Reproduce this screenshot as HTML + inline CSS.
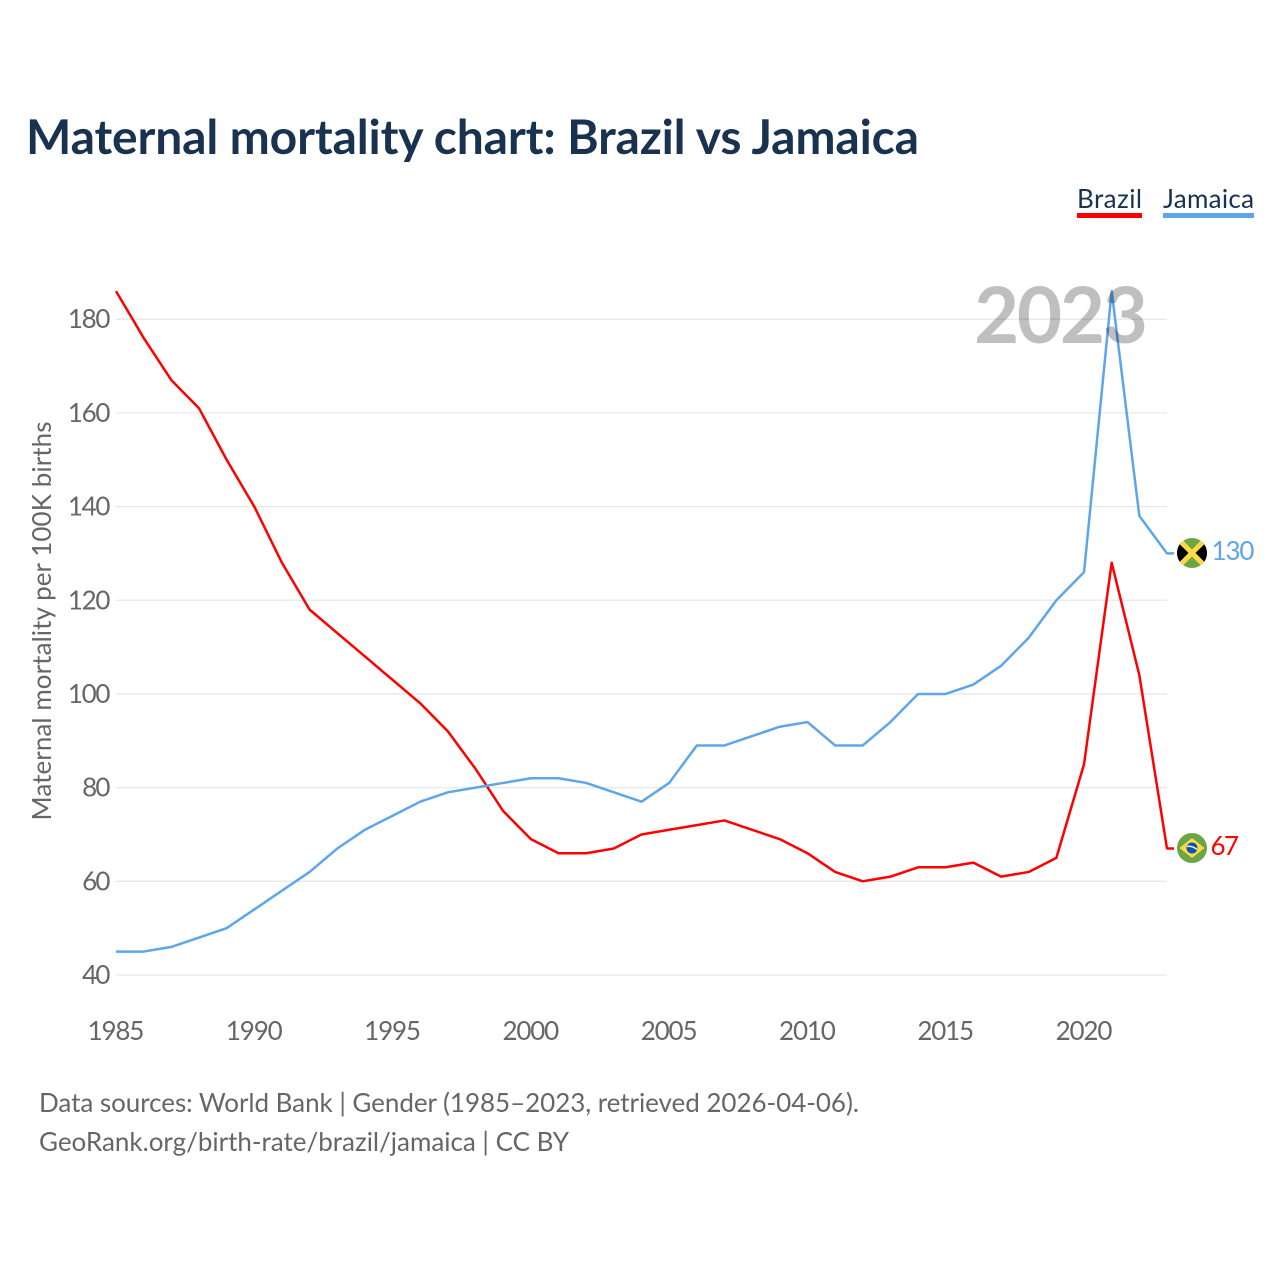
<!DOCTYPE html>
<html>
<head>
<meta charset="utf-8">
<title>Maternal mortality chart: Brazil vs Jamaica</title>
<style>
html,body{margin:0;padding:0;background:#fff;width:1280px;height:1280px;overflow:hidden}
svg{display:block}
text{font-family:"Lato","Liberation Sans",sans-serif}
</style>
</head>
<body>
<svg id="chart" width="1280" height="1280" viewBox="0 0 1280 1280" xmlns="http://www.w3.org/2000/svg">
  <defs>
    <clipPath id="clip-jm"><circle cx="1192" cy="553" r="15"/></clipPath>
    <clipPath id="clip-br"><circle cx="1192" cy="848" r="15"/></clipPath>
  </defs>
  <rect width="1280" height="1280" fill="#fff"/>
  <text x="26" y="154" font-size="48" font-weight="700" fill="#183250" textLength="893" lengthAdjust="spacing">Maternal mortality chart: Brazil vs Jamaica</text>

  <g>
    <text x="1077" y="208" font-size="26" fill="#183250" textLength="65" lengthAdjust="spacing">Brazil</text>
    <rect x="1077" y="213" width="65" height="5" fill="#ff0000"/>
  </g>
  <g>
    <text x="1163" y="208" font-size="26" fill="#183250" textLength="91" lengthAdjust="spacing">Jamaica</text>
    <rect x="1163" y="213" width="91" height="5" fill="#5ea5ea"/>
  </g>

  <g id="grid"></g>
  <g id="y-ticks"></g>
  <g id="x-ticks"></g>

  <text transform="translate(51,820.5) rotate(-90)" x="0" y="0" font-size="26" fill="#666" textLength="399" lengthAdjust="spacing">Maternal mortality per 100K births</text>

  <g id="series"></g>

  <text x="974" y="343" font-size="78" font-weight="700" fill="#000" fill-opacity="0.25" textLength="174" lengthAdjust="spacing">2023</text>

  <g clip-path="url(#clip-jm)">
    <rect x="1177" y="538" width="30" height="30" fill="#6da544"/>
    <polygon points="1177,538 1192,553 1177,568" fill="#000"/>
    <polygon points="1207,538 1192,553 1207,568" fill="#000"/>
    <line x1="1177" y1="538" x2="1207" y2="568" stroke="#ffda44" stroke-width="5"/>
    <line x1="1207" y1="538" x2="1177" y2="568" stroke="#ffda44" stroke-width="5"/>
  </g>
  <g clip-path="url(#clip-br)">
    <rect x="1177" y="833" width="30" height="30" fill="#6da544"/>
    <polygon points="1192,838 1204.500,848 1192,858 1179.500,848" fill="#ffda44"/>
    <circle cx="1192" cy="848" r="5.500" fill="#0052b4"/>
    <path d="M1187 846.500 Q1192 845.500 1197 849.500" stroke="#f0f0f0" stroke-width="1.500" fill="none"/>
  </g>
  <text id="end-jm" x="1211.500" y="560" font-size="26" fill="#5ea5ea" textLength="43" lengthAdjust="spacing"></text>
  <text id="end-br" x="1210.500" y="855" font-size="26" fill="#ff0000" textLength="28.500" lengthAdjust="spacing"></text>

  <text x="39" y="1112" font-size="26" fill="#666" textLength="820" lengthAdjust="spacing">Data sources: World Bank | Gender (1985–2023, retrieved 2026-04-06).</text>
  <text x="39" y="1151" font-size="26" fill="#666" textLength="530" lengthAdjust="spacing">GeoRank.org/birth-rate/brazil/jamaica | CC BY</text>
</svg>
<script>
var years = [1985,1986,1987,1988,1989,1990,1991,1992,1993,1994,1995,1996,1997,1998,1999,2000,2001,2002,2003,2004,2005,2006,2007,2008,2009,2010,2011,2012,2013,2014,2015,2016,2017,2018,2019,2020,2021,2022,2023];
var brazil = [186,176,167,161,150,140,128,118,113,108,103,98,92,84,75,69,66,66,67,70,71,72,73,71,69,66,62,60,61,63,63,64,61,62,65,85,128,104,67];
var jamaica = [45,45,46,48,50,54,58,62,67,71,74,77,79,80,81,82,82,81,79,77,81,89,89,91,93,94,89,89,94,100,100,102,106,112,120,126,186,138,130];
var yTicks = [40,60,80,100,120,140,160,180];
var xTicks = [1985,1990,1995,2000,2005,2010,2015,2020];

var NS = 'http://www.w3.org/2000/svg';
function xScale(v){ return 116 + (v - 1985) * (1167 - 116) / (2023 - 1985); }
function yScale(v){ return 975 - (v - 40) * (975 - 319.2) / (180 - 40); }
function make(tag, attrs, parent){
  var el = document.createElementNS(NS, tag);
  for (var k in attrs) el.setAttribute(k, attrs[k]);
  parent.appendChild(el);
  return el;
}
var grid = document.getElementById('grid');
var yG = document.getElementById('y-ticks');
var xG = document.getElementById('x-ticks');
var seriesG = document.getElementById('series');

yTicks.forEach(function(t){
  var line = make('line', {x1:116, x2:1167, y1:yScale(t), y2:yScale(t), stroke:'#e8e8e8', 'stroke-width':1.3}, grid);
  
  
  var s = String(t);
  var w = s.length * 14.2;
  var label = make('text', {x:110.5 - w, y:yScale(t) + 9, 'font-size':26, fill:'#666', textLength:w, lengthAdjust:'spacing'}, yG);
  
  
  label.textContent = s;
});

xTicks.forEach(function(t){
  var s = String(t);
  var w = s.length * 14.2;
  var label = make('text', {x:xScale(t) - w / 2, y:1040, 'font-size':26, fill:'#666', textLength:w, lengthAdjust:'spacing'}, xG);
  
  
  label.textContent = s;
});

function drawSeries(values, color){
  var pts = values.map(function(v, i){ return xScale(years[i]).toFixed(2) + ',' + yScale(v).toFixed(2); });
  var last = values[values.length - 1];
  pts.push((xScale(years[years.length - 1]) + 7).toFixed(2) + ',' + yScale(last).toFixed(2));
  return make('polyline', {points:pts.join(' '), fill:'none', stroke:color, 'stroke-width':2.5, 'stroke-linejoin':'round'}, seriesG);
}
var brazilLine = drawSeries(brazil, '#ff0000');


var jamaicaLine = drawSeries(jamaica, '#5ea5ea');



document.getElementById('end-jm').textContent = jamaica[jamaica.length - 1];
document.getElementById('end-br').textContent = brazil[brazil.length - 1];
</script>
</body>
</html>
